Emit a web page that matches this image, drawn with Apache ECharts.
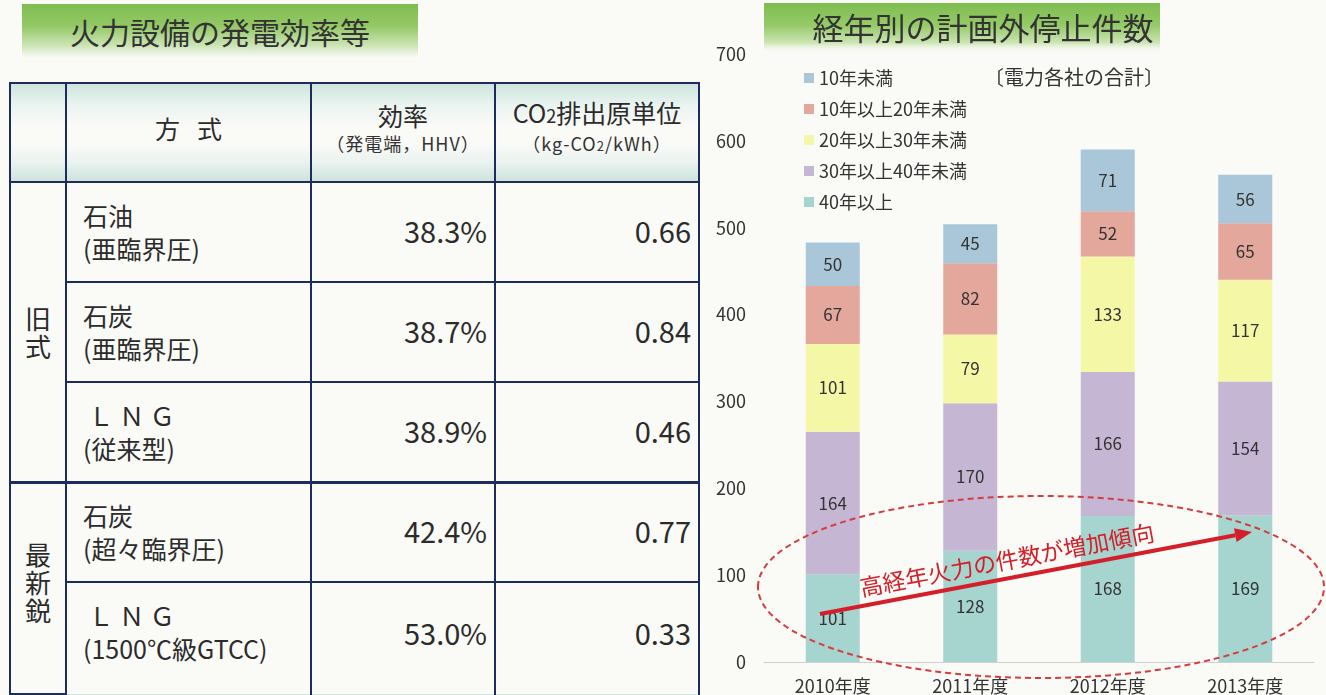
<!DOCTYPE html>
<html lang="ja">
<head>
<meta charset="utf-8">
<title>火力設備の発電効率等 / 経年別の計画外停止件数</title>
<script src="https://cdn.jsdelivr.net/npm/echarts@6/dist/echarts.min.js"></script>
<style>
    body {
        margin: 0;
        width: 1326px;
        height: 695px;
        overflow: hidden;
        position: relative;
        background: #fafaf7;
        font-family: "Noto Sans CJK JP", sans-serif;
        color: #2b2b2b;
    }
    .banner {
        position: absolute;
        left: 22px;
        top: 4px;
        width: 396px;
        height: 54px;
        background: linear-gradient(180deg, #7fbd50 0%, #93c865 40%, #c9e3b0 75%, rgba(250,250,247,0) 100%);
        font-size: 30px;
        line-height: 54px;
        text-align: center;
        color: #333;
    }
    #tbl {
        position: absolute;
        left: 9px;
        top: 82px;
        border-collapse: collapse;
        table-layout: fixed;
    }
    #tbl td {
        border: 2px solid #1d2b5e;
        padding: 0;
        vertical-align: middle;
    }
    #tbl td.head {
        background: linear-gradient(180deg, #cfe4de 0%, #eaf4f0 22%, #fafaf7 42%, #fafaf7 62%, #e8f2ee 82%, #cde3dc 100%);
        text-align: center;
        padding-bottom: 10px;
    }
    .big { font-size: 25px; line-height: 30px; }
    .sub { font-size: 18px; line-height: 26px; color: #333; letter-spacing: 1px; }
    .grp { font-size: 26px; line-height: 28px; text-align: center; }
    .kind { font-size: 25px; line-height: 33px; padding-left: 16px !important; }
    .val { font-size: 29px; text-align: right; padding-right: 7px !important; padding-bottom: 4px !important; }
    #tbl tr.split td { border-top-width: 3px; }
    #tbl tr.last td { border-bottom: 1px solid #d3e3de; padding-bottom: 12px !important; }
    #chart {
        position: absolute;
        left: 700px;
        top: 0;
        width: 626px;
        height: 695px;
    }
</style>
</head>
<body>
<div class="banner">火力設備の発電効率等</div>
<table id="tbl">
    <colgroup>
        <col style="width:56px">
        <col style="width:245px">
        <col style="width:184px">
        <col style="width:204px">
    </colgroup>
    <tbody id="tbody"></tbody>
</table>
<div id="chart"></div>
<script>
/* 表のデータ */
var plantTypes = ['石油<br>(亜臨界圧)', '石炭<br>(亜臨界圧)', '&nbsp;Ｌ Ｎ Ｇ<br>(従来型)', '石炭<br>(超々臨界圧)', '&nbsp;Ｌ Ｎ Ｇ<br>(1500℃級GTCC)'];
var efficiency = ['38.3%', '38.7%', '38.9%', '42.4%', '53.0%'];
var co2Unit = ['0.66', '0.84', '0.46', '0.77', '0.33'];

/* グラフのデータ */
var years = ['2010年度', '2011年度', '2012年度', '2013年度'];
var under10 = [50, 45, 71, 56];
var from10to20 = [67, 82, 52, 65];
var from20to30 = [101, 79, 133, 117];
var from30to40 = [164, 170, 166, 154];
var over40 = [101, 128, 168, 169];
var legendNames = ['10年未満', '10年以上20年未満', '20年以上30年未満', '30年以上40年未満', '40年以上'];
var yTicks = [0, 700, 100];

var buildTable = function () {
    var html = '<tr style="height:99px">' +
        '<td class="head"></td>' +
        '<td class="head big">方&nbsp;&nbsp;&nbsp;式</td>' +
        '<td class="head"><div class="big">効率</div><div class="sub">（発電端，HHV）</div></td>' +
        '<td class="head"><div class="big">CO<span style="font-size:18px">2</span>排出原単位</div><div class="sub">（kg-CO<span style="font-size:13px">2</span>/kWh）</div></td>' +
        '</tr>';
    plantTypes.forEach(function (item, i) {
        var cls = i === 3 ? ' class="split"' : (i === 4 ? ' class="last"' : '');
        html += '<tr style="height:' + (i === 4 ? 112 : 100) + 'px"' + cls + '>';
        if (i === 0) {
            html += '<td class="grp" rowspan="3">旧<br>式</td>';
        }
        if (i === 3) {
            html += '<td class="grp" rowspan="2" style="padding-bottom:12px">最<br>新<br>鋭</td>';
        }
        html += '<td class="kind">' + item + '</td>';
        html += '<td class="val">' + efficiency[i] + '</td>';
        html += '<td class="val">' + co2Unit[i] + '</td>';
        html += '</tr>';
    });
    document.getElementById('tbody').innerHTML = html;
};

var barCharts = function () {
    var box = document.getElementById('chart');
    var myChart = echarts.init(box);
    var colors = {
        '10年未満': '#a9c7d9',
        '10年以上20年未満': '#e3a79c',
        '20年以上30年未満': '#f4f8a6',
        '30年以上40年未満': '#c5b6d4',
        '40年以上': '#a6d4cf'
    };
    /* 積み上げは下から */
    var stackData = [
        ['40年以上', over40],
        ['30年以上40年未満', from30to40],
        ['20年以上30年未満', from20to30],
        ['10年以上20年未満', from10to20],
        ['10年未満', under10]
    ];
    var series = stackData.map(function (item) {
        return {
            name: item[0],
            type: 'bar',
            stack: 'total',
            barWidth: 54,
            data: item[1],
            itemStyle: { color: colors[item[0]] },
            label: {
                show: true,
                position: 'inside',
                color: '#333',
                fontSize: 17,
                fontFamily: 'Noto Sans CJK JP'
            }
        };
    });

    /* 矢印 */
    var tip = [552, 532], tail = [120, 614];
    var dx = tip[0] - tail[0], dy = tip[1] - tail[1];
    var len = Math.sqrt(dx * dx + dy * dy);
    var ux = dx / len, uy = dy / len;
    var nx = -uy, ny = ux;
    var bx = tip[0] - 17 * ux, by = tip[1] - 17 * uy;
    var angle = Math.atan2(-dy, dx);

    var options = {
        textStyle: { fontFamily: 'Noto Sans CJK JP' },
        legend: {
            data: legendNames,
            orient: 'vertical',
            left: 99,
            top: 64,
            itemWidth: 10,
            itemHeight: 10,
            itemGap: 13,
            icon: 'rect',
            textStyle: { color: '#333', fontSize: 18 }
        },
        grid: {
            left: 64,
            right: 12,
            top: 54,
            bottom: 31
        },
        xAxis: {
            type: 'category',
            data: years,
            axisLine: { lineStyle: { color: '#cfcfcf', width: 1 } },
            axisTick: { show: false },
            axisLabel: { color: '#333', fontSize: 18, margin: 15 }
        },
        yAxis: {
            type: 'value',
            min: yTicks[0],
            max: yTicks[1],
            interval: yTicks[2],
            splitLine: { show: false },
            axisLabel: { color: '#333', fontSize: 18, margin: 18 }
        },
        series: series,
        graphic: [
            {
                type: 'rect',
                z: -1,
                shape: { x: 64, y: 3, width: 396, height: 50 },
                style: {
                    fill: new echarts.graphic.LinearGradient(0, 0, 0, 1, [
                        { offset: 0, color: '#7fbd50' },
                        { offset: 0.45, color: '#96ca68' },
                        { offset: 0.8, color: '#cde5b5' },
                        { offset: 1, color: 'rgba(250,250,247,0)' }
                    ])
                }
            },
            {
                type: 'text',
                x: 283,
                y: 28,
                style: {
                    text: '経年別の計画外停止件数',
                    fontSize: 31,
                    fill: '#333',
                    align: 'center',
                    verticalAlign: 'middle',
                    fontFamily: 'Noto Sans CJK JP'
                }
            },
            {
                type: 'text',
                x: 284,
                y: 77,
                style: {
                    text: '〔電力各社の合計〕',
                    fontSize: 20,
                    fill: '#333',
                    verticalAlign: 'middle',
                    fontFamily: 'Noto Sans CJK JP'
                }
            },
            {
                type: 'ellipse',
                z: 100,
                shape: { cx: 341, cy: 587, rx: 283, ry: 91 },
                style: {
                    fill: 'none',
                    stroke: '#d63c3c',
                    lineWidth: 2,
                    lineDash: [6, 4]
                }
            },
            {
                type: 'line',
                z: 100,
                shape: { x1: tail[0], y1: tail[1], x2: bx, y2: by },
                style: { stroke: '#d41f2a', lineWidth: 4 }
            },
            {
                type: 'polygon',
                z: 100,
                shape: {
                    points: [
                        tip,
                        [bx + 7 * nx, by + 7 * ny],
                        [bx - 7 * nx, by - 7 * ny]
                    ]
                },
                style: { fill: '#d41f2a' }
            },
            {
                type: 'text',
                z: 100,
                x: 307,
                y: 560,
                rotation: angle,
                style: {
                    text: '高経年火力の件数が増加傾向',
                    fontSize: 23,
                    fill: '#d41f2a',
                    align: 'center',
                    verticalAlign: 'middle',
                    fontFamily: 'Noto Sans CJK JP'
                }
            }
        ]
    };
    myChart.setOption(options);
};

buildTable();
barCharts();
</script>
</body>
</html>
